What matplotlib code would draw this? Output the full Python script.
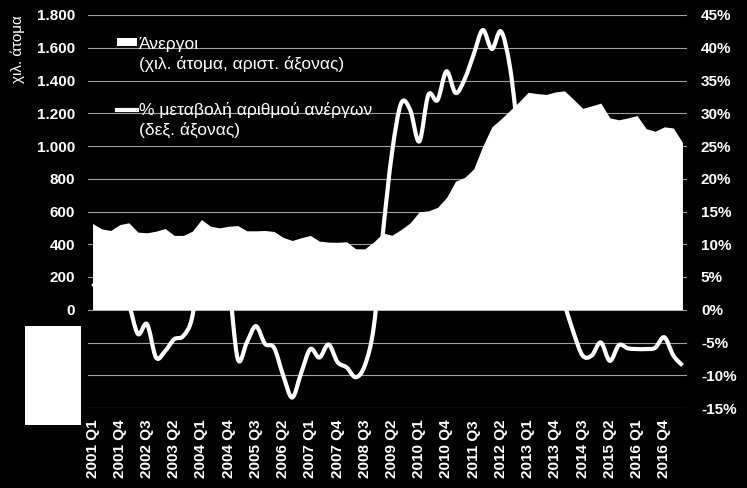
import numpy as np
import matplotlib.pyplot as plt
from matplotlib.path import Path
from matplotlib.patches import PathPatch, Patch, Rectangle
from matplotlib.lines import Line2D

plt.rcParams['font.family'] = ['Liberation Sans', 'DejaVu Sans']

# unemployed, thousands (left axis), 2001 Q1 .. 2017 Q2
unemployed = [527, 494, 484, 520, 531, 474, 470, 480, 496, 454,
              454, 480, 551, 510, 500, 510, 514, 482, 482, 484,
              478, 442, 423, 440, 454, 419, 413, 412, 415, 372,
              372, 415, 468, 455, 490, 531, 598, 604, 625, 685,
              785, 808, 860, 1000, 1117, 1165, 1218, 1270, 1328, 1320,
              1315, 1330, 1337, 1285, 1230, 1245, 1262, 1172, 1160, 1172,
              1186, 1106, 1090, 1117, 1110, 1022]

# % change in number of unemployed (right axis)
pct_change = [4.0, 3.0, 4.0, 3.0, 0.8, -3.7, -2.2, -7.3, -6.3, -4.5,
              -4.0, -1.0, 9.0, 10.0, 8.0, 4.0, -7.5, -5.0, -2.5, -5.2,
              -5.8, -10.0, -13.4, -9.6, -6.0, -7.3, -5.3, -8.0, -8.8, -10.3,
              -8.5, -2.5, 11.8, 24.0, 31.5, 30.5, 25.7, 32.8, 32.0, 36.4,
              33.1, 35.2, 39.0, 42.7, 39.8, 42.5, 37.0, 26.0, 19.0, 14.0,
              8.5, 4.5, 0.8, -3.5, -7.0, -7.0, -5.0, -7.8, -5.4, -5.9,
              -6.0, -6.0, -5.8, -4.2, -7.0, -8.5]

tick_labels = ["2001 Q1", "2001 Q4", "2002 Q3", "2003 Q2", "2004 Q1", "2004 Q4",
               "2005 Q3", "2006 Q2", "2007 Q1", "2007 Q4", "2008 Q3", "2009 Q2",
               "2010 Q1", "2010 Q4", "2011 Q3", "2012 Q2", "2013 Q1", "2013 Q4",
               "2014 Q3", "2015 Q2", "2016 Q1", "2016 Q4"]

x = np.arange(len(unemployed))


def smooth_path(xs, ys):
    # excel-like smoothed line (catmull-rom as cubic bezier)
    n = len(xs)
    verts = [(xs[0], ys[0])]
    codes = [Path.MOVETO]
    for i in range(n - 1):
        xa, ya = (xs[i - 1], ys[i - 1]) if i > 0 else (xs[i], ys[i])
        xb, yb = (xs[i + 2], ys[i + 2]) if i + 2 < n else (xs[i + 1], ys[i + 1])
        c1 = (xs[i] + (xs[i + 1] - xa) / 6, ys[i] + (ys[i + 1] - ya) / 6)
        c2 = (xs[i + 1] - (xb - xs[i]) / 6, ys[i + 1] - (yb - ys[i]) / 6)
        verts += [c1, c2, (xs[i + 1], ys[i + 1])]
        codes += [Path.CURVE4] * 3
    return Path(verts, codes)


fig = plt.figure(figsize=(7.47, 4.88), dpi=100, facecolor='black')
ax = fig.add_subplot(111)
fig.subplots_adjust(left=88/747, right=687/747, top=1-15/488, bottom=1-408/488)
ax2 = ax.twinx()

# gridlines on the right axis, kept behind the area
ax.set_zorder(ax2.get_zorder() + 1)
ax.patch.set_visible(False)
ax2.patch.set_visible(False)

ax.fill_between(x, 0, unemployed, color='white', lw=0)
ax2.add_patch(PathPatch(smooth_path(x, pct_change), fill=False, edgecolor='white',
                        lw=3, capstyle='butt', joinstyle='round'))

ax.set_xlim(-0.5, len(x) - 0.5)
ax.set_ylim(-600, 1800)
ax2.set_ylim(-15, 45)

ax.set_yticks(range(0, 1801, 200))
ax.set_yticklabels([f"{v:,}".replace(",", ".") for v in range(0, 1801, 200)])
ax2.set_yticks(range(-15, 46, 5))
ax2.set_yticklabels([f"{v}%" for v in range(-15, 46, 5)])
ax.set_xticks(x[::3])
ax.set_xticklabels(tick_labels, rotation=90)

ax2.grid(axis='y', color='#a0a0a0', lw=0.8)
ax2.set_axisbelow(True)

for a in (ax, ax2):
    for s in a.spines.values():
        s.set_visible(False)
    a.tick_params(length=0, colors='white', labelsize=11)
    for lbl in a.get_xticklabels() + a.get_yticklabels():
        lbl.set_fontweight('bold')
ax.tick_params(axis='y', pad=9.5)
ax.tick_params(axis='x', pad=8.5)
ax2.tick_params(axis='y', pad=10)

ax.set_ylabel("χιλ. άτομα", color='white', fontsize=11, loc='top', labelpad=8)

blank = Patch(facecolor='none', edgecolor='none')
handles = [Patch(facecolor='white', edgecolor='none'), blank, blank,
           Line2D([], [], color='white', lw=3), blank]
labels = ["Άνεργοι", "(χιλ. άτομα, αριστ. άξονας)", "(",
          "% μεταβολή αριθμού ανέργων", "(δεξ. άξονας)"]
leg = ax.legend(handles, labels, loc='upper left', bbox_to_anchor=(0.048, 0.945),
                frameon=False, fontsize=12.5, labelcolor='white', handlelength=1.15,
                handleheight=0.35, handletextpad=0.15, labelspacing=0.25,
                borderpad=0, borderaxespad=0)
spacer = leg.get_texts()[2]
spacer.set_alpha(0)
spacer.set_fontsize(16)

fig.add_artist(Rectangle((25/747, 1-425/488), 56/747, 99/488,
                         transform=fig.transFigure, facecolor='white', edgecolor='none'))

fig.savefig('out.png', dpi=100, facecolor='black')
